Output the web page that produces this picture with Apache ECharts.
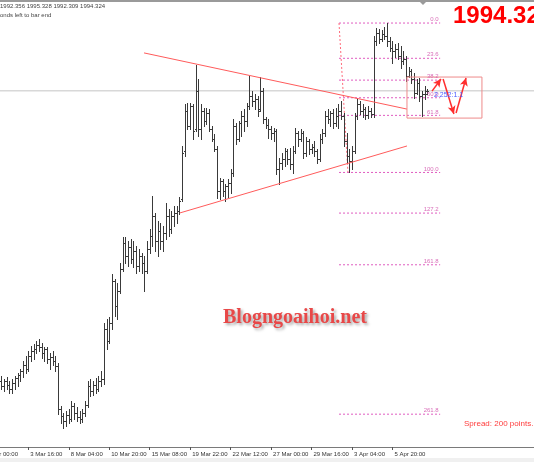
<!DOCTYPE html>
<html><head><meta charset="utf-8">
<script src="https://cdn.jsdelivr.net/npm/echarts@6/dist/echarts.min.js"></script>
<style>html,body{margin:0;padding:0;background:#fff;}#c{width:534px;height:462px;}</style>
</head><body><div id="c"></div>
<script>
// ---- data (XAUUSD bars) ----
const opens = [1833.1,1830.3,1833.1,1830.9,1828.6,1832.0,1834.8,1836.4,1838.6,1842.0,1839.8,1847.0,1849.8,1850.9,1853.1,1852.0,1848.6,1850.9,1845.3,1846.4,1844.2,1841.4,1817.5,1813.6,1810.9,1814.2,1812.0,1819.2,1815.3,1813.1,1812.0,1815.3,1819.8,1830.3,1827.5,1830.9,1828.6,1833.1,1834.2,1862.0,1855.3,1865.3,1888.6,1874.7,1883.1,1895.3,1909.8,1902.5,1907.5,1900.9,1905.3,1897.0,1902.5,1898.6,1894.2,1906.4,1913.6,1924.8,1910.9,1916.4,1910.9,1915.3,1924.8,1917.5,1924.8,1926.4,1927.5,1934.2,1960.9,1983.1,1974.8,1985.9,1973.1,1994.2,1973.1,1983.1,1977.5,1982.0,1973.1,1967.5,1962.0,1938.6,1944.2,1938.6,1941.4,1943.1,1948.6,1974.8,1967.5,1976.4,1980.3,1977.5,1985.9,1991.4,1988.6,1989.8,1984.2,1994.2,1978.6,1975.3,1973.1,1970.9,1972.0,1950.9,1954.2,1956.4,1960.9,1956.4,1953.6,1960.9,1970.9,1967.5,1970.9,1959.8,1966.4,1962.0,1963.1,1960.9,1956.4,1967.5,1970.9,1980.3,1978.6,1982.0,1976.4,1980.3,1983.1,1980.3,1966.4,1958.1,1955.3,1960.9,1980.3,1987.0,1983.1,1984.2,1980.9,1983.1,1981.4,2022.0,2026.4,2023.1,2025.9,2024.8,2022.0,2018.1,2016.4,2017.5,2013.6,2010.9,2012.0,2002.5,2005.3,2000.9,1993.1,1998.6,1991.4,1992.5,1992.356];
const highs = [1835.9,1834.2,1835.3,1833.1,1834.2,1835.9,1837.5,1839.8,1844.2,1847.0,1849.8,1852.5,1853.6,1855.3,1856.4,1854.2,1852.0,1852.0,1848.6,1849.8,1847.0,1843.1,1819.2,1815.3,1816.4,1817.5,1822.0,1820.9,1818.6,1816.4,1817.5,1822.0,1833.1,1834.2,1833.1,1834.8,1835.9,1838.6,1865.3,1867.5,1868.6,1892.5,1889.8,1887.5,1898.6,1913.1,1913.1,1910.9,1912.0,1910.9,1908.1,1906.4,1904.2,1902.5,1910.9,1917.5,1935.9,1926.4,1922.0,1920.9,1919.2,1932.0,1928.6,1927.5,1930.3,1930.3,1935.3,1963.6,1987.0,1987.5,1987.5,1987.0,2008.6,2000.9,1987.0,1984.8,1984.8,1984.2,1974.8,1970.3,1963.6,1945.9,1945.3,1942.5,1945.3,1950.9,1978.6,1976.4,1977.5,1983.1,1984.2,1987.5,2002.5,1994.2,1992.5,1991.4,2002.0,1995.9,1979.8,1978.6,1974.8,1973.6,1973.1,1957.0,1959.8,1962.5,1962.0,1962.5,1963.6,1973.6,1972.0,1973.1,1972.0,1968.6,1967.5,1964.8,1966.4,1962.0,1970.3,1973.1,1983.1,1984.2,1983.1,1984.2,1984.8,1987.0,1988.6,1982.0,1970.9,1962.0,1963.6,1982.0,1990.3,1988.6,1987.0,1985.3,1985.9,1984.8,2024.8,2029.2,2028.6,2028.1,2029.8,2032.0,2024.2,2022.0,2020.3,2020.9,2019.2,2016.4,2013.6,2007.5,2006.4,2004.2,2000.9,2001.4,1994.2,1997.0,1995.328];
const lows = [1828.6,1827.5,1828.6,1826.4,1826.4,1828.6,1830.3,1833.1,1835.3,1837.5,1838.6,1844.2,1845.3,1848.6,1849.8,1845.9,1844.2,1843.1,1839.8,1842.0,1838.6,1814.8,1809.8,1807.0,1808.1,1809.8,1810.9,1812.0,1810.9,1809.8,1810.3,1813.6,1818.6,1824.8,1825.3,1826.4,1827.5,1830.3,1831.4,1850.9,1854.2,1862.0,1869.2,1867.5,1882.0,1894.2,1898.6,1897.0,1898.6,1896.4,1893.1,1894.2,1893.1,1883.1,1893.1,1904.2,1908.1,1905.3,1902.5,1906.4,1905.3,1912.0,1913.6,1915.3,1919.2,1920.9,1925.9,1933.1,1958.1,1973.1,1973.1,1967.5,1972.0,1969.2,1967.5,1974.8,1975.9,1972.0,1966.4,1960.9,1934.8,1934.2,1935.9,1933.1,1935.3,1937.5,1947.0,1964.8,1966.4,1969.2,1972.0,1974.8,1984.2,1985.9,1984.2,1980.3,1983.1,1976.4,1973.6,1968.1,1967.5,1966.4,1948.1,1942.5,1950.9,1952.5,1953.6,1950.9,1948.6,1959.8,1963.6,1966.4,1957.0,1958.1,1959.2,1959.8,1958.1,1954.2,1955.3,1965.3,1969.2,1976.4,1974.8,1973.6,1974.8,1973.6,1978.6,1963.6,1954.2,1949.0,1950.9,1959.8,1978.6,1981.4,1979.8,1978.6,1979.2,1979.8,1979.8,2019.8,2020.9,2022.0,2023.1,2019.2,2016.4,2009.8,2013.1,2012.0,2007.0,2009.2,1999.8,2002.0,1998.6,1990.3,1992.5,1988.6,1980.3,1989.8,1992.309];
const closes = [1830.3,1833.1,1830.9,1828.6,1832.0,1834.8,1836.4,1838.6,1842.0,1839.8,1847.0,1849.8,1850.9,1853.1,1852.0,1848.6,1850.9,1845.3,1846.4,1844.2,1841.4,1817.5,1813.6,1810.9,1814.2,1812.0,1819.2,1815.3,1813.1,1812.0,1815.3,1819.8,1830.3,1827.5,1830.9,1828.6,1833.1,1834.2,1862.0,1855.3,1865.3,1888.6,1874.7,1883.1,1895.3,1909.8,1902.5,1907.5,1900.9,1905.3,1897.0,1902.5,1898.6,1894.2,1906.4,1913.6,1924.8,1910.9,1916.4,1910.9,1915.3,1924.8,1917.5,1924.8,1926.4,1927.5,1933.1,1959.8,1983.1,1974.8,1985.9,1972.0,1994.2,1973.1,1983.1,1977.5,1982.0,1973.1,1967.5,1962.0,1938.6,1944.2,1938.6,1941.4,1943.1,1948.6,1974.8,1967.5,1976.4,1980.3,1977.5,1985.9,1991.4,1988.6,1989.8,1983.1,1994.2,1978.6,1975.3,1973.1,1970.9,1972.0,1950.9,1954.2,1956.4,1960.9,1956.4,1953.6,1960.9,1970.9,1967.5,1970.9,1959.8,1966.4,1962.0,1963.1,1960.9,1956.4,1967.5,1970.9,1980.3,1978.6,1982.0,1976.4,1980.3,1983.1,1980.3,1966.4,1958.1,1955.3,1960.9,1980.3,1987.0,1983.1,1984.2,1980.9,1983.1,1981.4,2022.0,2026.4,2023.1,2025.9,2024.8,2022.0,2018.1,2016.4,2017.5,2013.6,2010.9,2012.0,2002.5,2005.3,2000.9,1993.1,1998.6,1991.4,1992.5,1994.2,1994.324];

const totalSlots = 198;
const tickIdx = [10,25,40,55,70,85,100,115,130,145];
const tickLabels = ['3 Mar 16:00','8 Mar 04:00','10 Mar 20:00','15 Mar 08:00','19 Mar 22:00','22 Mar 12:00','27 Mar 00:00','29 Mar 16:00','3 Apr 04:00','5 Apr 20:00'];
const currentPrice = 1994.324;
const headerText = '1992.356 1995.328 1992.309 1994.324';

// Fibonacci retracement
const fibHigh = 2032.0, fibLow = 1949.0;
const fibRatios = [0, 23.6, 38.2, 50, 61.8, 100, 127.2, 161.8, 261.8];
const fibLabels = ['0.0','23.6','38.2','50.0','61.8','100.0','127.2','161.8','261.8'];
const fibX = [125.2, 162.7];

// drawn objects (bar index, price)
const upperTrend = [[52.9, 2015.4], [150.4, 1984.2]];
const lowerTrend = [[66.2, 1926.5], [150.4, 1963.7]];
const fibDiagonal = [[125.2, 2032.0], [128.5, 1949.2]];
const boxX = [150.4, 178.2], boxY = [1979.2, 2002.0];
const arrows = [
  [[159.7, 1994.2], [163.0, 2000.9]],
  [[163.8, 2000.9], [167.8, 1981.5]],
  [[168.6, 1982.0], [172.3, 2001.5]]
];

// ---- chart ----
const cats = Array.from({length: totalSlots}, (_, i) => String(i));
const labelMap = {};
tickIdx.forEach((k, j) => labelMap[k] = tickLabels[j]);
const showTick = (idx) => labelMap[idx] !== undefined;

const ohlc = opens.map((o, i) => [i, o, highs[i], lows[i], closes[i]]);

function renderBar(params, api) {
  const i = api.value(0);
  const pO = api.coord([i, api.value(1)]);
  const pH = api.coord([i, api.value(2)]);
  const pL = api.coord([i, api.value(3)]);
  const pC = api.coord([i, api.value(4)]);
  const x = Math.round(pH[0]) + 0.5;
  const st = {stroke: '#3a3a3a', lineWidth: 1};
  const yo = Math.round(pO[1]) + 0.5, yc = Math.round(pC[1]) + 0.5;
  return {type: 'group', children: [
    {type: 'line', shape: {x1: x, y1: Math.round(pH[1]), x2: x, y2: Math.round(pL[1]) + 1}, style: st},
    {type: 'line', shape: {x1: x - 1.5, y1: yo, x2: x, y2: yo}, style: st},
    {type: 'line', shape: {x1: x, y1: yc, x2: x + 1.5, y2: yc}, style: st}
  ]};
}

const fibColor = '#e05cc0';
const series = [];
series.push({type: 'custom', name: 'bars', xAxisIndex: 0, yAxisIndex: 0, data: ohlc,
  encode: {x: 0, y: [1, 2, 3, 4]}, renderItem: renderBar, clip: false, silent: true, z: 3});
series.push({type: 'line', xAxisIndex: 1, data: [[-0.5, currentPrice], [197.5, currentPrice]],
  showSymbol: false, lineStyle: {color: '#c4c4c4', width: 1}, silent: true, z: 1});
fibRatios.forEach((r, k) => {
  const p = fibHigh - r / 100 * (fibHigh - fibLow);
  series.push({type: 'line', xAxisIndex: 1, data: [[fibX[0], p], [fibX[1], p]], showSymbol: false,
    lineStyle: {color: fibColor, width: 1, type: [2, 2]}, silent: true, z: 2});
  series.push({type: 'scatter', xAxisIndex: 1, symbolSize: 1, itemStyle: {color: 'rgba(0,0,0,0)'},
    data: [[fibX[1], p]], silent: true, z: 4,
    label: {show: true, formatter: fibLabels[k], position: 'left', distance: 1, offset: [0, -3.5],
      color: '#d04aa8', fontSize: 6, fontFamily: 'Liberation Sans'}});
});
series.push({type: 'line', xAxisIndex: 1, data: fibDiagonal, showSymbol: false,
  lineStyle: {color: '#ff6a7a', width: 1, type: [2, 2]}, silent: true, z: 2});
series.push({type: 'line', xAxisIndex: 1, data: upperTrend, showSymbol: false,
  lineStyle: {color: '#ff5b5b', width: 1}, silent: true, z: 4});
series.push({type: 'line', xAxisIndex: 1, data: lowerTrend, showSymbol: false,
  lineStyle: {color: '#ff5b5b', width: 1}, silent: true, z: 4});
series.push({type: 'line', xAxisIndex: 1,
  data: [[boxX[0], boxY[0]], [boxX[1], boxY[0]], [boxX[1], boxY[1]], [boxX[0], boxY[1]], [boxX[0], boxY[0]]],
  showSymbol: false, lineStyle: {color: '#ee8a8a', width: 1}, silent: true, z: 4,
  markLine: {silent: true, symbol: ['none', 'arrow'], symbolSize: [6, 8], animation: false,
    lineStyle: {color: '#ff2e2e', width: 1.5, type: 'solid'}, label: {show: false},
    data: arrows.map(a => [{coord: a[0]}, {coord: a[1]}])}});

const chart = echarts.init(document.getElementById('c'), null, {renderer: 'canvas'});
chart.setOption({
  animation: false,
  backgroundColor: '#ffffff',
  grid: {left: 0, right: 0, top: 0, bottom: 15, containLabel: false},
  xAxis: [
    {type: 'category', data: cats, boundaryGap: true,
      axisLine: {show: true, lineStyle: {color: '#7a7a7a', width: 1}},
      axisTick: {show: true, alignWithLabel: true, length: 3, interval: showTick, lineStyle: {color: '#555'}},
      axisLabel: {interval: showTick, formatter: (v, idx) => labelMap[idx] || '', fontSize: 6,
        color: '#333', align: 'left', margin: 4, padding: [0, 0, 0, 2], fontFamily: 'Liberation Sans'},
      splitLine: {show: false}},
    {type: 'value', min: -0.5, max: 197.5, show: false}
  ],
  yAxis: {type: 'value', min: 1796.47, max: 2044.8, show: false, splitLine: {show: false}},
  series: series,
  graphic: [
    {type: 'rect', left: 0, top: 0, shape: {width: 534, height: 2}, style: {fill: '#9a9a9a'}, silent: true},
    {type: 'polygon', shape: {points: [[420, 2], [426, 2], [423, 5]]}, style: {fill: '#9a9a9a'}, silent: true},
    {type: 'rect', left: 0, top: 458, shape: {width: 534, height: 4}, style: {fill: '#f0f0f0'}, silent: true},
    {type: 'text', x: 0, y: 6, style: {text: headerText, font: '6px "Liberation Sans"', fill: '#444',
      textAlign: 'left', textVerticalAlign: 'middle', verticalAlign: 'middle'}, silent: true},
    {type: 'text', x: 0, y: 15, style: {text: 'onds left to bar end', font: '6px "Liberation Sans"', fill: '#444',
      textAlign: 'left', textVerticalAlign: 'middle', verticalAlign: 'middle'}, silent: true},
    {type: 'text', x: 453, y: 16, style: {text: '1994.32', font: 'bold 24px "Liberation Sans"', fill: '#ff0000',
      textAlign: 'left', textVerticalAlign: 'middle', verticalAlign: 'middle'}, silent: true},
    {type: 'text', x: 464, y: 424, style: {text: 'Spread: 200 points.', font: '8px "Liberation Sans"', fill: '#ff3b3b',
      textAlign: 'left', textVerticalAlign: 'middle', verticalAlign: 'middle'}, silent: true},
    {type: 'text', x: 434, y: 95, style: {text: '2.252:1.1', font: '7px "Liberation Sans"', fill: '#4a5cff',
      textAlign: 'left', textVerticalAlign: 'middle', verticalAlign: 'middle'}, silent: true, z: 10},
    {type: 'text', x: -14, y: 454, style: {text: '1 Mar 00:00', font: '6px "Liberation Sans"', fill: '#333',
      textAlign: 'left', textVerticalAlign: 'middle', verticalAlign: 'middle'}, silent: true},
    {type: 'text', x: 223, y: 318, style: {text: 'Blogngoaihoi.net', font: 'bold 20px "Liberation Serif"', fill: '#e84848',
      textAlign: 'left', textVerticalAlign: 'middle', verticalAlign: 'middle',
      shadowBlur: 3, shadowColor: 'rgba(0,0,0,0.35)', shadowOffsetX: 2, shadowOffsetY: 2,
      textShadowBlur: 3, textShadowColor: 'rgba(0,0,0,0.35)', textShadowOffsetX: 2, textShadowOffsetY: 2}, silent: true, z: 10}
  ]
});
</script></body></html>
